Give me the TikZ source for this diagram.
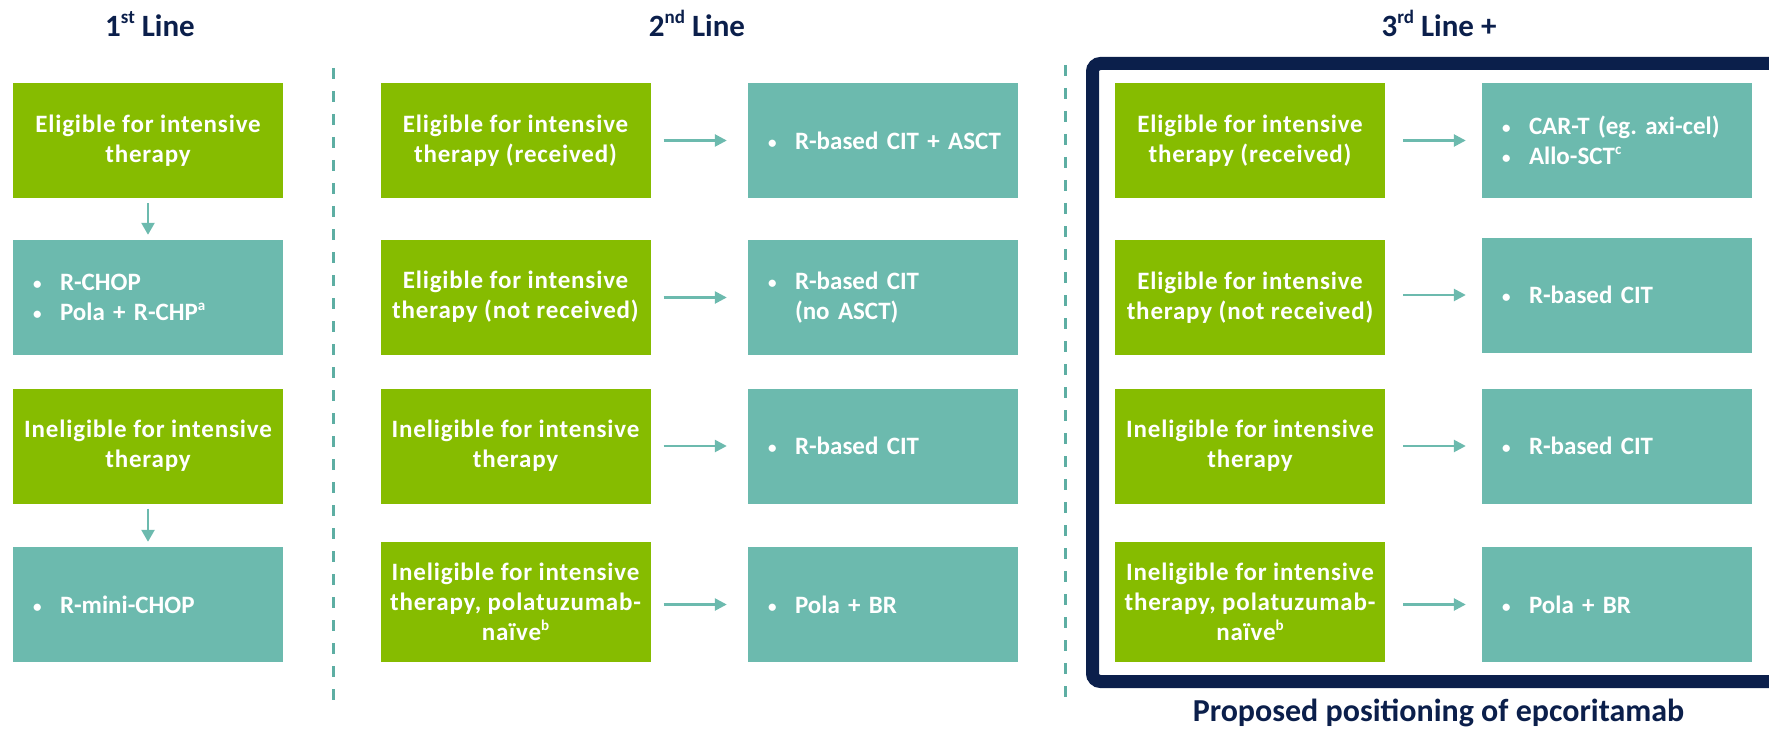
\documentclass[tikz,border=0pt]{standalone}
\usepackage{fontspec}
\setmainfont{Carlito}
\newfontfamily\gfont{Carlito}[LetterSpace=3.3]
\usetikzlibrary{arrows.meta}
\definecolor{grn}{HTML}{86BC00}
\definecolor{tl}{HTML}{6CBAAE}
\definecolor{navy}{HTML}{0B1F4B}
\definecolor{dsh}{HTML}{5DAEA3}
\newcommand\bul[1]{\makebox[27pt][l]{\raisebox{1pt}{\fontsize{17}{17}\selectfont\textbullet}}\mbox{#1}}
\newcommand\sups[1]{\raisebox{0.42em}{\fontsize{15}{15}\selectfont #1}}
\newcommand\tsups[1]{\raisebox{0.45em}{\fontsize{19}{19}\selectfont #1}}
\tikzset{
  gbox/.style={fill=grn, text=white, font=\gfont\bfseries\fontsize{25}{30}\selectfont, minimum width=270pt, minimum height=115pt, inner sep=0pt, align=center},
  tbox/.style={fill=tl, text=white, font=\bfseries\fontsize{25}{30}\selectfont, minimum width=270pt, minimum height=115pt, inner sep=0pt, align=left, text width=230pt},
  ttl/.style={text=navy, font=\bfseries\fontsize{31}{36}\selectfont, anchor=base, inner sep=0pt},
  harr/.style={draw=tl, line width=2.5pt, -{Triangle[length=12pt,width=12pt]}},
  varr/.style={draw=tl, line width=2.5pt, -{Triangle[length=12pt,width=13pt]}, shorten <=5pt, shorten >=5pt},
  sep/.style={draw=dsh, line width=3pt, dash pattern=on 11pt off 12pt},
  frame/.style={draw=navy, line width=13pt, rounded corners=8pt}
}
\begin{document}
\frenchspacing
\begin{tikzpicture}[x=1pt,y=-1pt]
\useasboundingbox (0,0) rectangle (1769,730);
\clip (0,0) rectangle (1769,730);

% titles
\node[ttl] (t1) at (150,37) {1\tsups{st} Line};
\node[ttl] (t2) at (697,37) {2\tsups{nd} Line};
\node[ttl] (t3) at (1439,37) {3\tsups{rd} Line +};
\node[ttl, font=\bfseries\fontsize{32}{36}\selectfont] (prop) at (1438.5,721) {Proposed positioning of epcoritamab};

% separators
\coordinate (s1a) at (333,68);
\coordinate (s1b) at (333,710);
\coordinate (s2a) at (1065,65);
\coordinate (s2b) at (1065,707);
\draw[sep] (s1a) -- (s1b);
\draw[sep] (s2a) -- (s2b);

% frame
\draw[frame] (1092.5,63.5) rectangle (1810,681.5);

% column 1
\node[gbox] (a1) at (148,140.5) {Eligible for intensive\\therapy};
\node[tbox] (a2) at (148,297.5) {\bul{R-CHOP}\\\bul{Pola + R-CHP\sups{a}}};
\node[gbox] (a3) at (148,446) {Ineligible for intensive\\therapy};
\node[tbox] (a4) at (148,604.5) {\bul{R-mini-CHOP}};
\draw[varr] (a1) -- (a2);
\draw[varr] (a3) -- (a4);

% column 2
\node[gbox] (b1) at (515.5,140.5) {Eligible for intensive\\therapy (received)};
\node[tbox] (c1) at (883,140.5) {\bul{R-based CIT + ASCT}};
\node[gbox] (b2) at (515.5,297) {Eligible for intensive\\therapy (not received)};
\node[tbox] (c2) at (883,297.5) {\bul{R-based CIT}\\\hspace*{27pt}(no ASCT)};
\node[gbox] (b3) at (515.5,446) {Ineligible for intensive\\therapy};
\node[tbox] (c3) at (883,446) {\bul{R-based CIT}};
\node[gbox, minimum height=120pt] (b4) at (515.5,602) {Ineligible for intensive\\therapy, polatuzumab-\\naïve\sups{b}};
\node[tbox] (c4) at (883,604.5) {\bul{Pola + BR}};
\foreach \i in {1,2,3,4}{
  \draw[harr, shorten <=13pt, shorten >=21pt] (c\i.west -| b\i.east) -- (c\i.west);
}

% column 3
\node[gbox] (d1) at (1250,140.5) {Eligible for intensive\\therapy (received)};
\node[tbox] (e1) at (1617,140.5) {\bul{CAR-T (eg. axi-cel)}\\\bul{Allo-SCT\sups{c}}};
\node[gbox] (d2) at (1250,297.5) {Eligible for intensive\\therapy (not received)};
\node[tbox] (e2) at (1617,295) {\bul{R-based CIT}};
\node[gbox] (d3) at (1250,446) {Ineligible for intensive\\therapy};
\node[tbox] (e3) at (1617,446) {\bul{R-based CIT}};
\node[gbox, minimum height=120pt] (d4) at (1250,602) {Ineligible for intensive\\therapy, polatuzumab-\\naïve\sups{b}};
\node[tbox] (e4) at (1617,604.5) {\bul{Pola + BR}};
\foreach \i in {1,2,3,4}{
  \draw[harr, shorten <=18pt, shorten >=16pt] (e\i.west -| d\i.east) -- (e\i.west);
}
\end{tikzpicture}
\end{document}
